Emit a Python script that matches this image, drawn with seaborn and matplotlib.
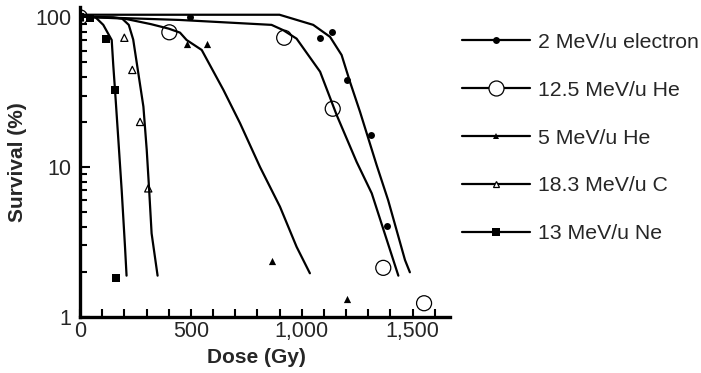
import numpy as np
import pandas as pd
import matplotlib
matplotlib.use("Agg")
import matplotlib.pyplot as plt
import seaborn as sns
from matplotlib.lines import Line2D
from matplotlib.ticker import FixedLocator, LogLocator, NullFormatter, FuncFormatter

sns.set_theme(style="white")
plt.rcParams["font.family"] = ["Liberation Sans", "DejaVu Sans"]

series_names = ["2 MeV/u electron", "12.5 MeV/u He", "5 MeV/u He",
                "18.3 MeV/u C", "13 MeV/u Ne"]

# measured points (dose Gy, survival %)
e_dose = [0, 496, 1083, 1138, 1203, 1311, 1383]
e_surv = [100, 100, 73, 80, 38, 16.4, 4.05]
he12_dose = [0, 403, 921, 1140, 1368, 1552]
he12_surv = [100, 79.4, 73, 24.5, 2.12, 1.23]
he5_dose = [0, 484, 571, 866, 1203]
he5_surv = [100, 66, 66, 2.36, 1.31]
c_dose = [0, 200, 236, 271, 308]
c_surv = [100, 73, 44.5, 20, 7.2]
ne_dose = [0, 45, 117, 159, 164]
ne_surv = [100, 98.6, 72, 32.5, 1.80]

# fitted curves
e_fit_dose = [0, 900, 1052, 1128, 1180, 1218, 1263, 1338, 1390, 1466, 1488]
e_fit_surv = [104, 104, 89, 74, 56, 37, 23.4, 10.3, 6.0, 2.39, 1.98]
he12_fit_dose = [0, 450, 864, 917, 977, 1083, 1158, 1248, 1316, 1436]
he12_fit_surv = [101, 96, 89, 82, 72, 43.3, 22.2, 10.8, 6.67, 1.88]
he5_fit_dose = [0, 200, 320, 400, 451, 481, 549, 647, 722, 812, 902, 977, 1037]
he5_fit_surv = [101, 98, 90, 84, 79, 70.5, 60.5, 32.7, 19.6, 10, 5.43, 2.93, 1.95]
c_fit_dose = [0, 150, 190, 220, 240, 263, 286, 301, 312, 323, 350]
c_fit_surv = [101, 100, 98, 89, 71, 42.4, 25.3, 13, 7.0, 3.6, 1.88]
ne_fit_dose = [0, 70, 105, 143, 150, 158, 173, 188, 203, 210]
ne_fit_surv = [101, 100, 89, 70.5, 48, 32.6, 15.2, 7.0, 2.93, 1.88]

x_major = [0, 500, 1000, 1500]
y_major = [1, 10, 100]

points = [(e_dose, e_surv), (he12_dose, he12_surv), (he5_dose, he5_surv),
          (c_dose, c_surv), (ne_dose, ne_surv)]
fits = [(e_fit_dose, e_fit_surv), (he12_fit_dose, he12_fit_surv),
        (he5_fit_dose, he5_fit_surv), (c_fit_dose, c_fit_surv),
        (ne_fit_dose, ne_fit_surv)]
styles = [
    dict(marker="o", ms=5.0, open=False),
    dict(marker="o", ms=10.8, open=True),
    dict(marker="^", ms=5.2, open=False),
    dict(marker="^", ms=5.2, open=True),
    dict(marker="s", ms=6.4, open=False),
]
legend_ms = [5.0, 10.8, 5.0, 4.2, 6.0]

fig = plt.figure(figsize=(7.01, 3.73), dpi=100)
ax = fig.add_axes([80 / 701, 56.3 / 373, 370 / 701, 310 / 373])
ax.set_yscale("log")

for (fx, fy) in fits:
    sns.lineplot(x=fx, y=fy, ax=ax, color="black", lw=1.6, sort=False,
                 estimator=None, zorder=2)

for (px, py), st in zip(points, styles):
    if st["open"]:
        sns.scatterplot(x=px, y=py, ax=ax, marker=st["marker"], s=st["ms"] ** 2,
                        color="black", facecolor="none", edgecolor="black",
                        linewidth=0.9, zorder=3)
    else:
        sns.scatterplot(x=px, y=py, ax=ax, marker=st["marker"], s=st["ms"] ** 2,
                        color="black", edgecolor="black", linewidth=0, zorder=3)

ax.set_xlim(0, 1669)
ax.set_ylim(1, 117.7)

for side in ["top", "right"]:
    ax.spines[side].set_visible(False)
for side in ["left", "bottom"]:
    ax.spines[side].set_linewidth(2.4)
    ax.spines[side].set_color("black")

ax.xaxis.set_major_locator(FixedLocator(x_major))
ax.xaxis.set_minor_locator(FixedLocator(list(range(100, 1700, 100))))
ax.xaxis.set_major_formatter(FuncFormatter(lambda v, p: f"{v:,.0f}"))
ax.yaxis.set_major_locator(FixedLocator(y_major))
ax.yaxis.set_minor_locator(LogLocator(base=10, subs=np.arange(2, 10)))
ax.yaxis.set_major_formatter(FuncFormatter(lambda v, p: f"{v:g}"))
ax.yaxis.set_minor_formatter(NullFormatter())

ax.tick_params(axis="x", which="both", direction="in", length=6, width=1.5,
               color="black", labelsize=15.5, pad=3, bottom=True)
ax.tick_params(axis="y", which="major", direction="in", length=7.2, width=1.5,
               color="black", labelsize=15.5, pad=6, left=True)
ax.tick_params(axis="y", which="minor", direction="in", length=4.8, width=1.5,
               color="black", left=True)

ax.set_xlabel("Dose (Gy)", fontsize=15, fontweight="bold")
ax.set_ylabel("Survival (%)", fontsize=15, fontweight="bold")
ax.xaxis.set_label_coords(0.476, -0.101)
ax.yaxis.set_label_coords(-0.143, 0.5)
ax.grid(False)

handles = []
for st, lms in zip(styles, legend_ms):
    handles.append(Line2D([], [], color="black", lw=1.6, marker=st["marker"],
                          ms=lms, mfc="white" if st["open"] else "black",
                          mec="black", mew=0.9 if st["open"] else 0))
leg = fig.legend(handles, series_names, loc="center left",
                 bbox_to_anchor=(461.7 / 701, 1 - 138 / 373),
                 frameon=False, fontsize=15.3, handlelength=3.2,
                 handletextpad=0.38, labelspacing=1.36, borderpad=0,
                 borderaxespad=0)

fig.savefig("out.png", dpi=100)
